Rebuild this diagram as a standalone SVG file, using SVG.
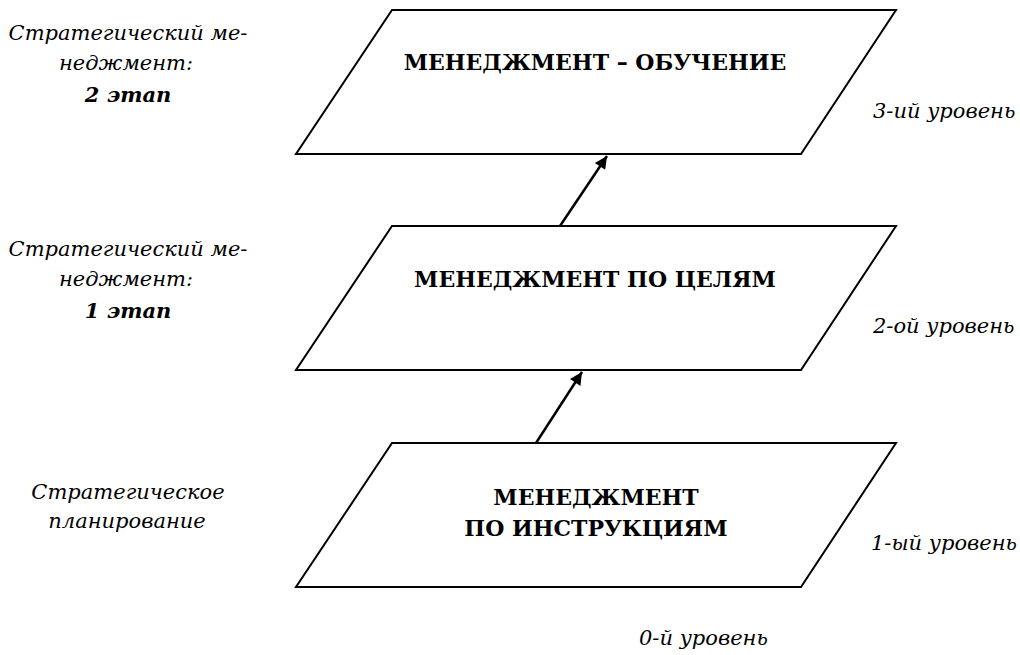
<svg xmlns="http://www.w3.org/2000/svg" width="1020" height="655" viewBox="0 0 1020 655">
<defs>
<style>
.box{fill:#fff;stroke:#000;stroke-width:2;stroke-linejoin:miter}
.conn{stroke:#000;stroke-width:2.5;fill:none}
.t{font-family:"DejaVu Serif",serif;font-weight:bold;font-size:22px;text-anchor:middle;fill:#000}
</style>
<marker id="arr" viewBox="0 0 10 10" refX="10" refY="5" markerWidth="6" markerHeight="5" markerUnits="strokeWidth" orient="auto">
<path d="M0,0 L10,5 L0,10 z" fill="#000"/>
</marker>
</defs>
<g id="node-top">
<polygon class="box" points="392,10 896,10 801,154 296,154"/>
<text class="t" x="595" y="70">МЕНЕДЖМЕНТ – ОБУЧЕНИЕ</text>
</g>
<g id="node-mid">
<polygon class="box" points="392,226 896,226 801,370 296,370"/>
<text class="t" x="595" y="287">МЕНЕДЖМЕНТ ПО ЦЕЛЯМ</text>
</g>
<g id="node-bot">
<polygon class="box" points="392,443 896,443 801,587 296,587"/>
<text class="t" x="596" y="505">МЕНЕДЖМЕНТ</text>
<text class="t" x="596" y="536">ПО ИНСТРУКЦИЯМ</text>
</g>
<g id="connectors">
<line class="conn" x1="560" y1="226" x2="607" y2="156" marker-end="url(#arr)"/>
<line class="conn" x1="536" y1="443" x2="582" y2="372" marker-end="url(#arr)"/>
</g>
<g id="labels-left" font-family="DejaVu Serif, serif" font-style="italic" font-size="21" text-anchor="middle">
<text x="128" y="40">Стратегический ме-</text>
<text x="126" y="70">неджмент:</text>
<text x="128" y="102" font-weight="bold">2 этап</text>
<text x="128" y="256">Стратегический ме-</text>
<text x="126" y="286">неджмент:</text>
<text x="128" y="318" font-weight="bold">1 этап</text>
<text x="128" y="499">Стратегическое</text>
<text x="127" y="528">планирование</text>
</g>
<g id="labels-right" font-family="DejaVu Serif, serif" font-style="italic" font-size="21">
<text x="873" y="118">3-ий уровень</text>
<text x="873" y="333">2-ой уровень</text>
<text x="871" y="550">1-ый уровень</text>
<text x="639" y="645">0-й уровень</text>
</g>
</svg>
